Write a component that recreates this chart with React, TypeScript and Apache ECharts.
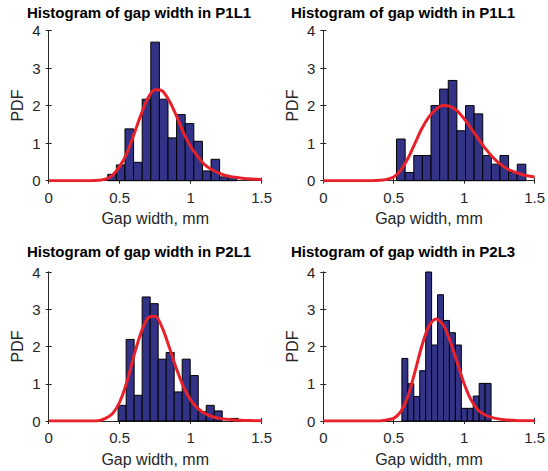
import React, { useEffect, useRef } from 'react';
import * as echarts from 'echarts';

// ---- data ----
const panelTitles = [
  'Histogram of gap width in P1L1',
  'Histogram of gap width in P1L1',
  'Histogram of gap width in P2L1',
  'Histogram of gap width in P2L3',
];

// histogram bin edges (first edge, bin width) and densities
const binStart = [0.416, 0.52, 0.489, 0.558];
const binWidth = [0.0606, 0.0612, 0.0564, 0.0422];

const hist1 = [0.17, 0.42, 1.38, 0.49, 2.17, 3.69, 2.17, 1.14, 1.76, 1.52, 1.05, 0.26, 0.57, 0.1, 0.09];
const hist2 = [1.11, 0.22, 0.67, 0.67, 2.0, 2.44, 2.67, 1.33, 2.0, 1.78, 0.67, 0.44, 0.67, 0.22, 0.44];
const hist3 = [0.42, 2.19, 0.69, 3.33, 3.15, 1.66, 1.84, 0.78, 1.66, 1.22, 0.25, 0.42, 0.27, 0, 0.07];
const hist4 = [1.68, 1.0, 0.66, 1.35, 4.38, 2.04, 3.39, 2.7, 2.37, 2.04, 0.34, 0.34, 0.67, 1.01, 1.01];

// fitted PDF read at these x positions
const curveX = [
  0, 0.05, 0.1, 0.15, 0.2, 0.25, 0.3, 0.35, 0.4, 0.45, 0.5, 0.55, 0.6, 0.65, 0.7, 0.75,
  0.8, 0.85, 0.9, 0.95, 1.0, 1.05, 1.1, 1.15, 1.2, 1.25, 1.3, 1.35, 1.4, 1.45, 1.5,
];
const curve1 = [
  0, 0, 0, 0, 0, 0, 0, 0.01, 0.04, 0.15, 0.38, 0.73, 1.23, 1.76, 2.21, 2.42,
  2.39, 2.12, 1.72, 1.27, 0.91, 0.64, 0.42, 0.29, 0.2, 0.13, 0.1, 0.07, 0.05, 0.04, 0.03,
];
const curve2 = [
  0, 0, 0, 0, 0, 0, 0, 0, 0.01, 0.035, 0.1, 0.28, 0.59, 0.99, 1.39, 1.7,
  1.9, 2.0, 1.98, 1.86, 1.65, 1.39, 1.12, 0.86, 0.64, 0.46, 0.33, 0.24, 0.18, 0.13, 0.1,
];
const curve3 = [
  0, 0, 0, 0, 0, 0, 0, 0.005, 0.07, 0.2, 0.51, 1.04, 1.75, 2.37, 2.77, 2.81,
  2.5, 1.97, 1.4, 0.91, 0.56, 0.34, 0.2, 0.12, 0.07, 0.05, 0.03, 0.02, 0.015, 0.01, 0.01,
];
const curve4 = [
  0, 0, 0, 0, 0, 0, 0, 0, 0, 0.03, 0.07, 0.25, 0.65, 1.31, 2.02, 2.55,
  2.74, 2.59, 2.15, 1.58, 1.0, 0.56, 0.29, 0.16, 0.09, 0.05, 0.03, 0.02, 0.01, 0.01, 0.01,
];

const hists = [hist1, hist2, hist3, hist4];
const curves = [curve1, curve2, curve3, curve4];

const xName = 'Gap width, mm';
const yName = 'PDF';

// ---- layout / style ----
const grids = [
  { left: 48.7, top: 30.5, width: 213, height: 150.2 },
  { left: 323.3, top: 30.5, width: 214.2, height: 150.2 },
  { left: 48.7, top: 272, width: 213, height: 149 },
  { left: 323.3, top: 272, width: 214.2, height: 149 },
];
const titlePos = [
  { left: 27, top: 5 },
  { left: 291, top: 5 },
  { left: 27, top: 244 },
  { left: 291, top: 244 },
];

const FONT = "'Liberation Sans', Arial, Helvetica, sans-serif";
const AX = '#262626';
const BAR = '#323287';
const RED = '#e8212b';

export default function App() {
  const ref = useRef<HTMLDivElement>(null);

  useEffect(() => {
    if (!ref.current) return;
    const chart = echarts.init(ref.current, undefined, { renderer: 'svg' });

    const xAxes: any[] = [];
    const yAxes: any[] = [];
    const series: any[] = [];

    grids.forEach((_, i) => {
      const common = {
        type: 'value',
        gridIndex: i,
        splitLine: { show: false },
        axisLine: { show: true, lineStyle: { color: AX, width: 1 } },
        axisTick: { show: true, inside: true, length: 3, lineStyle: { color: AX } },
      };
      xAxes.push({
        ...common,
        position: 'bottom',
        min: 0,
        max: 1.5,
        interval: 0.5,
        axisLabel: { fontSize: 15, color: AX, margin: 9, fontFamily: FONT },
        name: xName,
        nameLocation: 'middle',
        nameGap: 30,
        nameTextStyle: { fontSize: 16, color: AX, fontFamily: FONT },
      });
      xAxes.push({
        ...common,
        position: 'top',
        min: 0,
        max: 1.5,
        interval: 0.5,
        axisLabel: { show: false },
      });
      yAxes.push({
        ...common,
        position: 'left',
        min: 0,
        max: 4,
        interval: 1,
        axisLabel: { fontSize: 15, color: AX, margin: 8, fontFamily: FONT },
        name: yName,
        nameLocation: 'middle',
        nameGap: 23,
        nameRotate: 90,
        nameTextStyle: { fontSize: 16, color: AX, fontFamily: FONT },
      });
      yAxes.push({
        ...common,
        position: 'right',
        min: 0,
        max: 4,
        interval: 1,
        axisLabel: { show: false },
      });

      const barData = hists[i].map((h, k) => [
        binStart[i] + k * binWidth[i],
        binStart[i] + (k + 1) * binWidth[i],
        h,
      ]);
      series.push({
        type: 'custom',
        xAxisIndex: 2 * i,
        yAxisIndex: 2 * i,
        data: barData,
        encode: { x: [0, 1], y: 2 },
        z: 2,
        renderItem: (params: any, api: any) => {
          const x0 = api.value(0);
          const x1 = api.value(1);
          const h = api.value(2);
          if (!h) return null;
          const p0 = api.coord([x0, h]);
          const p1 = api.coord([x1, 0]);
          const cs = params.coordSys;
          const rect = echarts.graphic.clipRectByRect(
            { x: p0[0], y: p0[1], width: p1[0] - p0[0], height: p1[1] - p0[1] },
            { x: cs.x, y: cs.y, width: cs.width, height: cs.height }
          );
          if (!rect) return null;
          return {
            type: 'rect',
            shape: rect,
            style: { fill: BAR, stroke: '#000', lineWidth: 1 },
          };
        },
      });
      series.push({
        type: 'line',
        xAxisIndex: 2 * i,
        yAxisIndex: 2 * i,
        data: curveX.map((x, k) => [x, curves[i][k]]),
        symbol: 'none',
        smooth: 0.3,
        z: 5,
        lineStyle: { color: RED, width: 3 },
      });
    });

    chart.setOption({
      animation: false,
      backgroundColor: '#ffffff',
      textStyle: { fontFamily: FONT },
      title: panelTitles.map((t, i) => ({
        text: t,
        left: titlePos[i].left,
        top: titlePos[i].top,
        padding: 0,
        textStyle: { fontSize: 15, fontWeight: 'bold', color: '#000', fontFamily: FONT },
      })),
      grid: grids.map((g) => ({ ...g, containLabel: false })),
      xAxis: xAxes,
      yAxis: yAxes,
      series,
    });

    return () => chart.dispose();
  }, []);

  return (
    <div
      ref={ref}
      style={{ position: 'fixed', left: 0, top: 0, width: 548, height: 471, background: '#fff' }}
    />
  );
}
